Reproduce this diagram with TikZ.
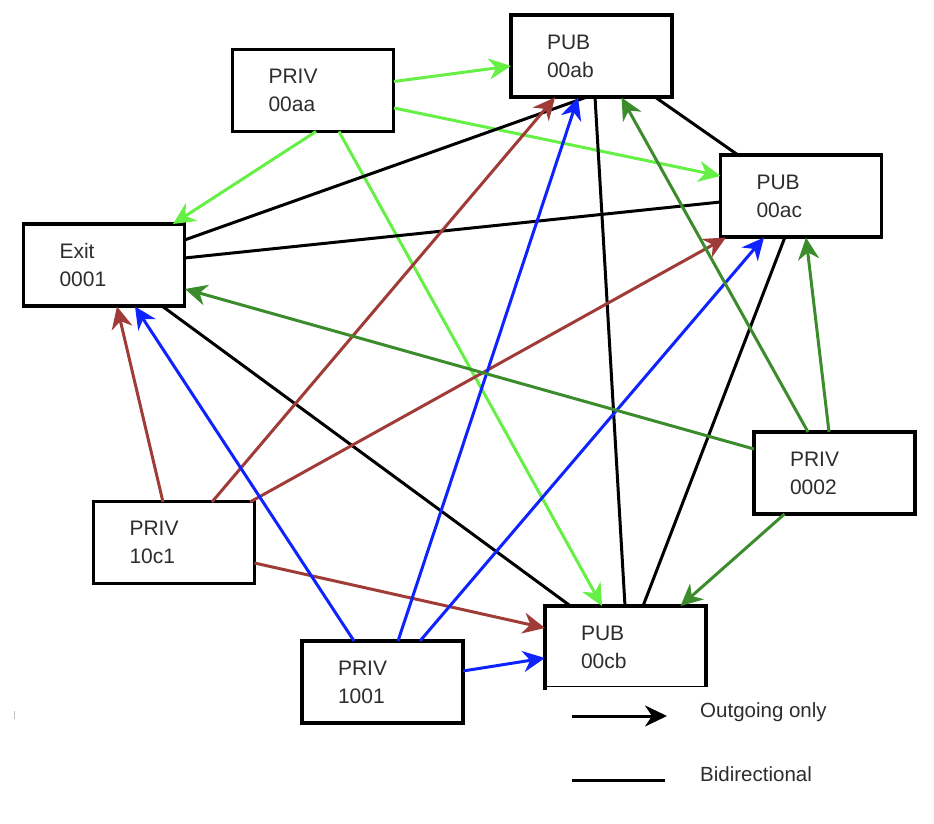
\documentclass[tikz,border=0pt]{standalone}
\usepackage{fontspec}
\setmainfont{Liberation Sans}
\usetikzlibrary{arrows.meta}
\definecolor{lgreen}{RGB}{102,240,70}
\definecolor{dgreen}{RGB}{60,140,45}
\definecolor{brick}{RGB}{160,60,55}
\definecolor{cblue}{RGB}{15,35,255}
\definecolor{inkgray}{RGB}{45,45,45}

\begin{document}
\begin{tikzpicture}[x=1pt,y=-1pt,
  hostbox/.style={draw=black, line width=3.2pt, fill=white,
    minimum width=161pt, minimum height=82pt,
    inner xsep=36pt, inner ysep=0pt, text width=89pt, align=left,
    font=\fontsize{21}{28}\selectfont, text=inkgray},
  link/.style={line width=3pt},
  oneway/.style={link, -{Stealth[length=22pt,width=21pt,inset=7pt]}},
  legendtext/.style={anchor=base west, inner sep=0pt,
    font=\fontsize{20.5}{24}\selectfont, text=inkgray}]

\useasboundingbox (0,0) rectangle (934,824);

% hosts
\node[hostbox] (ab) at (591.5,56)  {PUB\\00ab};
\node[hostbox] (aa) at (313,90.5)  {PRIV\\00aa};
\node[hostbox] (ac) at (801,196)   {PUB\\00ac};
\node[hostbox] (ex) at (104,265)   {Exit\\0001};
\node[hostbox] (p2) at (834.5,473) {PRIV\\0002};
\node[hostbox] (c1) at (174,542.5) {PRIV\\10c1};
\node[hostbox] (r1) at (382.5,682) {PRIV\\1001};
\node[hostbox] (cb) at (625.5,647) {PUB\\00cb};

% links from PRIV 00aa
\draw[oneway, lgreen] ([shift={(81,-9)}]aa.center)   -- ([shift={(-80.5,10)}]ab.center);
\draw[oneway, lgreen] ([shift={(81,17.5)}]aa.center) -- ([shift={(-80.5,-20)}]ac.center);
\draw[oneway, lgreen] ([shift={(3,41)}]aa.center)    -- ([shift={(69,-41)}]ex.center);
\draw[oneway, lgreen] ([shift={(26,41)}]aa.center)   -- ([shift={(-23.5,-41)}]cb.center);

% bidirectional links
\draw[link] ([shift={(80.5,-25)}]ex.center) -- ([shift={(-4.5,41)}]ab.center);
\draw[link] ([shift={(80.5,-7)}]ex.center)  -- ([shift={(-80.5,6)}]ac.center);
\draw[link] ([shift={(58,41)}]ex.center)    -- ([shift={(-55,-41)}]cb.center);
\draw[link] ([shift={(3.5,41)}]ab.center)   -- ([shift={(-0.5,-41)}]cb.center);
\draw[link] ([shift={(63.5,41)}]ab.center)  -- ([shift={(-63,-41)}]ac.center);
\draw[link] ([shift={(-16,41)}]ac.center)   -- ([shift={(17.5,-41)}]cb.center);

% links from PRIV 10c1
\draw[oneway, brick] ([shift={(-11,-40.5)}]c1.center) -- ([shift={(13,41.5)}]ex.center);
\draw[oneway, brick] ([shift={(38,-40.5)}]c1.center)  -- ([shift={(-36.5,41.5)}]ab.center);
\draw[oneway, brick] ([shift={(76,-40.5)}]c1.center)  -- ([shift={(-75,41.5)}]ac.center);
\draw[oneway, brick] ([shift={(80.5,20.5)}]c1.center) -- ([shift={(-80.5,-19)}]cb.center);

% links from PRIV 1001
\draw[oneway, cblue] ([shift={(-28.5,-41)}]r1.center) -- ([shift={(31,41.5)}]ex.center);
\draw[oneway, cblue] ([shift={(15.5,-41)}]r1.center)  -- ([shift={(-13.5,41.5)}]ab.center);
\draw[oneway, cblue] ([shift={(37.5,-41)}]r1.center)  -- ([shift={(-37,41.5)}]ac.center);
\draw[oneway, cblue] ([shift={(80.5,-11)}]r1.center)  -- ([shift={(-80.5,11)}]cb.center);

% links from PRIV 0002
\draw[oneway, dgreen] ([shift={(-80.5,-24)}]p2.center) -- ([shift={(81,24)}]ex.center);
\draw[oneway, dgreen] ([shift={(-26.5,-41)}]p2.center) -- ([shift={(30,41.5)}]ab.center);
\draw[oneway, dgreen] ([shift={(-5.5,-41)}]p2.center)  -- ([shift={(5,41.5)}]ac.center);
\draw[oneway, dgreen] ([shift={(-50,41)}]p2.center)    -- ([shift={(55,-41)}]cb.center);

% legend panel (covers the lower edge of PUB 00cb)
\fill[white] (547,687) rectangle (870,812);
\draw[gray!50, line width=1pt] (14,711) -- (14,719);

\coordinate (oa) at (572,716);
\coordinate (ob) at (667,716);
\draw[oneway, black] (oa) -- (ob);
\node[legendtext] (ol) at (700,717) {Outgoing only};

\coordinate (ba) at (572,780);
\coordinate (bb) at (665,780);
\draw[link] (ba) -- (bb);
\node[legendtext] (bl) at (700,781) {Bidirectional};
\end{tikzpicture}
\end{document}
